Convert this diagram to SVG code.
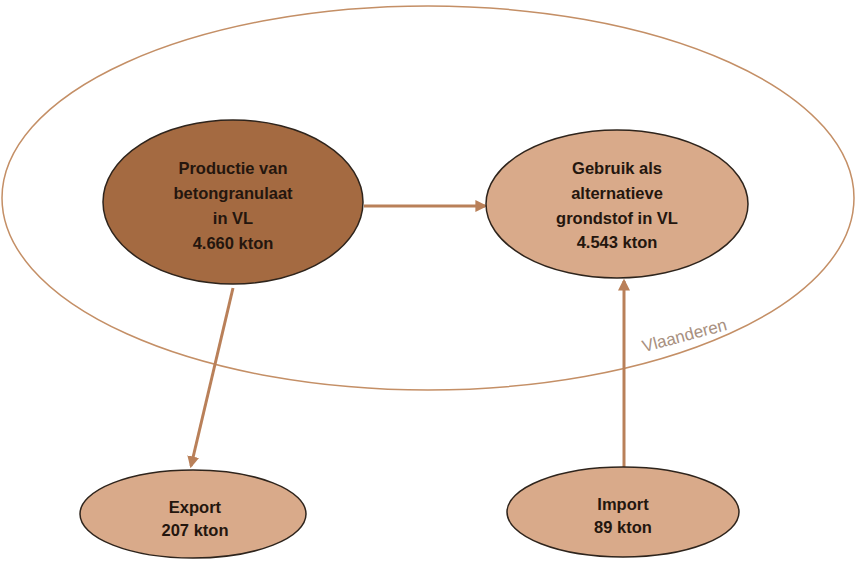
<svg xmlns="http://www.w3.org/2000/svg" width="856" height="562" viewBox="0 0 856 562">
<defs>
<style>
.node{stroke:#2e241c;stroke-width:1.5}
.dark{fill:#a46a41}
.light{fill:#d9aa8a}
.lbl{font-family:"Liberation Sans",Arial,sans-serif;font-weight:bold;font-size:16.5px;fill:#24160e;text-anchor:middle}
.conn{stroke:#b98059;stroke-width:3;fill:none;marker-end:url(#ah)}
</style>
<marker id="ah" viewBox="0 0 10 10" refX="8" refY="5" markerWidth="4" markerHeight="4" orient="auto" markerUnits="strokeWidth">
<path d="M0,0 L10,5 L0,10 Z" fill="#b98059"/>
</marker>
</defs>
<rect width="856" height="562" fill="#ffffff"/>
<g id="vlaanderen">
<ellipse cx="428" cy="198" rx="426" ry="192" fill="none" stroke="#c48f66" stroke-width="1.5"/>
<text x="686" y="341" transform="rotate(-15 686 341)" font-family="Liberation Sans,Arial,sans-serif" font-size="17" fill="#a89080" text-anchor="middle">Vlaanderen</text>
</g>
<g id="connectors">
<line class="conn" x1="364" y1="206" x2="485" y2="206"/>
<line class="conn" x1="233" y1="288" x2="191" y2="466"/>
<line class="conn" x1="624" y1="467" x2="624" y2="281"/>
</g>
<g id="productie">
<ellipse class="node dark" cx="233" cy="202" rx="130" ry="82"/>
<text class="lbl" x="233" y="174">Productie van</text>
<text class="lbl" x="233" y="199">betongranulaat</text>
<text class="lbl" x="233" y="224">in VL</text>
<text class="lbl" x="233" y="249">4.660 kton</text>
</g>
<g id="gebruik">
<ellipse class="node light" cx="617" cy="204" rx="131" ry="74"/>
<text class="lbl" x="617" y="174">Gebruik als</text>
<text class="lbl" x="617" y="199">alternatieve</text>
<text class="lbl" x="617" y="224">grondstof in VL</text>
<text class="lbl" x="617" y="248">4.543 kton</text>
</g>
<g id="export">
<ellipse class="node light" cx="193" cy="514" rx="113" ry="44"/>
<text class="lbl" x="195" y="513">Export</text>
<text class="lbl" x="195" y="536">207 kton</text>
</g>
<g id="import">
<ellipse class="node light" cx="623" cy="512" rx="116" ry="45"/>
<text class="lbl" x="623" y="510">Import</text>
<text class="lbl" x="623" y="533">89 kton</text>
</g>
</svg>
